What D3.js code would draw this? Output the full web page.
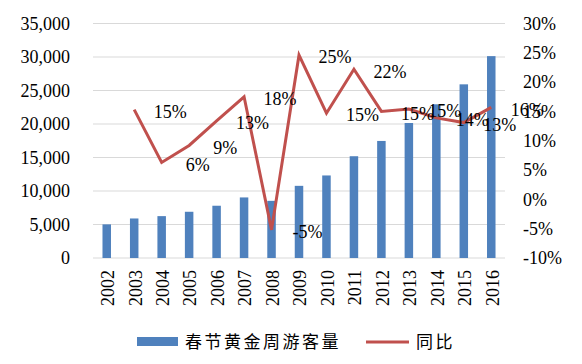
<!DOCTYPE html>
<html>
<head>
<meta charset="utf-8">
<script src="https://cdn.jsdelivr.net/npm/d3@7"></script>
<style>
  body { margin: 0; background: #fff; }
  svg { display: block; }
  text { font-family: "Liberation Serif", "Times New Roman", serif; fill: #000; }
  .cjk { font-family: "Noto Sans CJK SC", sans-serif; }
</style>
</head>
<body>
<svg width="582" height="364"></svg>
<script>
const years = ['2002','2003','2004','2005','2006','2007','2008','2009','2010','2011','2012','2013','2014','2015','2016'];
const visitors = [5020, 5900, 6250, 6900, 7800, 9040, 8530, 10770, 12320, 15190, 17470, 20150, 22940, 25920, 30130];
const yoyYears = ['2003','2004','2005','2006','2007','2008','2009','2010','2011','2012','2013','2014','2015','2016'];
const yoy = [15.3, 6.3, 9.2, 13.4, 17.5, -5.2, 24.6, 14.7, 22.2, 15.0, 15.4, 13.9, 13.1, 15.7];
const yoyLabels = ['15%','6%','9%','13%','18%','-5%','25%','15%','22%','15%','15%','14%','13%','16%'];
const leftTicks = [0, 5000, 10000, 15000, 20000, 25000, 30000, 35000];
const rightTicks = [-10, -5, 0, 5, 10, 15, 20, 25, 30];
const seriesNames = ['春节黄金周游客量', '同比'];

const svg = d3.select('svg');
const plotL = 93, plotR = 505, plotT = 23.5, plotB = 258;

const x = d3.scaleBand().domain(years).range([plotL, plotR]);
const yL = d3.scaleLinear().domain([0, 35000]).range([plotB, plotT]);
const yR = d3.scaleLinear().domain([-10, 30]).range([plotB, plotT]);

// gridlines
svg.append('g').selectAll('line')
  .data(leftTicks)
  .enter().append('line')
  .attr('x1', plotL).attr('x2', plotR)
  .attr('y1', d => yL(d)).attr('y2', d => yL(d))
  .attr('stroke', '#d9d9d9').attr('stroke-width', 1);

// left axis labels
svg.append('g').selectAll('text')
  .data(leftTicks)
  .enter().append('text')
  .attr('x', 70).attr('y', d => yL(d))
  .attr('dy', '0.35em')
  .attr('text-anchor', 'end')
  .style('font-size', '18px')
  .text(d => d3.format(',')(d));

// right axis labels
svg.append('g').selectAll('text')
  .data(rightTicks)
  .enter().append('text')
  .attr('x', 523).attr('y', d => yR(d))
  .attr('dy', '0.35em')
  .style('font-size', '18px')
  .text(d => d + '%');

// bars
const bw = 8.5;
svg.append('g').selectAll('rect')
  .data(visitors)
  .enter().append('rect')
  .attr('x', (d, i) => x(years[i]) + x.bandwidth() / 2 - bw / 2)
  .attr('width', bw)
  .attr('y', d => yL(d))
  .attr('height', d => plotB - yL(d))
  .attr('fill', '#4f81bd');

// x labels
svg.append('g').selectAll('text')
  .data(years)
  .enter().append('text')
  .attr('transform', d => `translate(${x(d) + x.bandwidth() / 2 + 1},270) rotate(-90)`)
  .attr('text-anchor', 'end')
  .attr('dy', '0.35em')
  .style('font-size', '18px')
  .text(d => d);

// line
const lx = (d, i) => x(yoyYears[i]) + x.bandwidth() / 2;
const line = d3.line().x(lx).y(d => yR(d));
svg.append('path')
  .datum(yoy)
  .attr('d', line)
  .attr('fill', 'none')
  .attr('stroke', '#c0504d')
  .attr('stroke-width', 3)
  .attr('stroke-linejoin', 'miter');

// line labels
svg.append('g').selectAll('text')
  .data(yoy)
  .enter().append('text')
  .attr('x', (d, i) => lx(d, i) + 36)
  .attr('y', d => yR(d) + 2)
  .attr('dy', '0.35em')
  .attr('text-anchor', 'middle')
  .style('font-size', '18px')
  .text((d, i) => yoyLabels[i]);

// legend
const lg = svg.append('g');
lg.append('rect').attr('x', 137).attr('y', 337).attr('width', 41).attr('height', 9).attr('fill', '#4f81bd');
lg.append('text').attr('class', 'cjk').attr('x', 185).attr('y', 342).attr('dy', '0.35em')
  .style('font-size', '17px').style('letter-spacing', '2.5px').text(seriesNames[0]);
lg.append('line').attr('x1', 366).attr('x2', 409).attr('y1', 342).attr('y2', 342)
  .attr('stroke', '#c0504d').attr('stroke-width', 3);
lg.append('text').attr('class', 'cjk').attr('x', 416).attr('y', 342).attr('dy', '0.35em')
  .style('font-size', '17px').style('letter-spacing', '2.5px').text(seriesNames[1]);
</script>
</body>
</html>
